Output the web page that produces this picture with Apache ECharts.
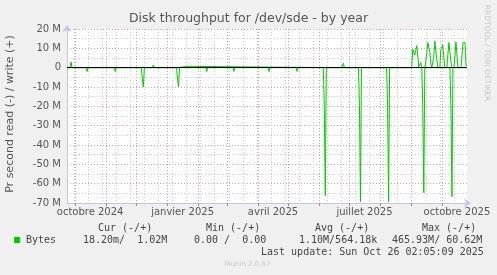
<!DOCTYPE html>
<html><head><meta charset="utf-8">
<script src="https://cdn.jsdelivr.net/npm/echarts@6/dist/echarts.min.js"></script>
<style>html,body{margin:0;padding:0;background:#f0f0f0;}#c{width:497px;height:275px;}</style>
</head><body><div id="c"></div>
<script>
// ---- data (values in M bytes/s) ----
const startDate = '2024-09-23';
const endDate = '2025-10-26';
const titleText = 'Disk throughput for /dev/sde - by year';
const yAxisName = 'Pr second read (-) / write (+)';
const yMin = -70, yMax = 20, yStep = 10;
const monthNames = ['janvier','février','mars','avril','mai','juin','juillet','août','septembre','octobre','novembre','décembre'];
const labelMonths = ['01','04','07','10'];

// write (+)
const writeData = [
  ['2024-09-23',0],['2024-09-26',0],['2024-09-27',3.0],['2024-09-28',0],
  ['2024-12-05',0],['2024-12-06',0.5],['2024-12-07',0],
  ['2024-12-17',0],['2024-12-18',1.4],['2024-12-19',0],
  ['2025-01-12',0],['2025-01-13',0.7],['2025-01-20',0.7],['2025-01-21',0],
  ['2025-06-16',0],['2025-06-17',1.0],['2025-06-18',0],
  ['2025-06-23',0],['2025-06-24',1.0],['2025-06-25',2.3],['2025-06-26',0],
  ['2025-09-01',0],['2025-09-02',9.5],['2025-09-03',8.0],['2025-09-04',6.5],['2025-09-05',9.0],['2025-09-06',11.4],['2025-09-07',6.0],['2025-09-08',0.5],['2025-09-09',1.5],['2025-09-10',2.6],['2025-09-11',0],
  ['2025-09-14',0],['2025-09-15',3.0],['2025-09-16',8.0],['2025-09-17',13.0],['2025-09-18',13.0],['2025-09-19',8.0],['2025-09-20',2.0],['2025-09-21',0],
  ['2025-09-22',0],['2025-09-23',6.0],['2025-09-24',13.8],['2025-09-25',13.0],['2025-09-26',4.0],['2025-09-27',0],
  ['2025-09-29',0],['2025-09-30',9.5],['2025-10-01',9.5],['2025-10-02',11.7],['2025-10-03',5.0],['2025-10-04',0],
  ['2025-10-06',0],['2025-10-07',7.0],['2025-10-08',13.0],['2025-10-09',13.0],['2025-10-10',3.0],['2025-10-11',0],
  ['2025-10-13',0],['2025-10-14',6.0],['2025-10-15',13.3],['2025-10-16',13.3],['2025-10-17',0],
  ['2025-10-20',0],['2025-10-21',6.0],['2025-10-22',13.0],['2025-10-23',13.0],['2025-10-24',13.0],['2025-10-25',1.0],['2025-10-26',1.02]
];

// read (-)
const readData = [
  ['2024-09-23',0],
  ['2024-10-12',0],['2024-10-13',-2],['2024-10-14',0],
  ['2024-11-09',0],['2024-11-10',-2],['2024-11-11',0],
  ['2024-12-06',0],['2024-12-07',-6],['2024-12-08',-10],['2024-12-09',0],
  ['2025-01-10',0],['2025-01-11',-6],['2025-01-12',-9.8],['2025-01-13',0],
  ['2025-02-08',0],['2025-02-09',-2],['2025-02-10',0],
  ['2025-03-07',0],['2025-03-08',-2],['2025-03-09',0],
  ['2025-04-11',0],['2025-04-12',-2],['2025-04-13',0],
  ['2025-05-09',0],['2025-05-10',-2],['2025-05-11',0],
  ['2025-06-05',0],['2025-06-06',-20],['2025-06-07',-66.2],['2025-06-08',0],
  ['2025-07-10',0],['2025-07-11',-20],['2025-07-12',-69.3],['2025-07-13',0],
  ['2025-08-07',0],['2025-08-08',-20],['2025-08-09',-69.3],['2025-08-10',0],
  ['2025-09-11',0],['2025-09-12',-20],['2025-09-13',-64.7],['2025-09-14',0],
  ['2025-10-09',0],['2025-10-10',-20],['2025-10-11',-66.7],['2025-10-12',0],
  ['2025-10-26',-0.02]
];

const legendHeaders = ['Cur (-/+)','Min (-/+)','Avg (-/+)','Max (-/+)'];
const legendValues = ['18.20m/  1.02M','0.00 /  0.00','1.10M/564.18k','465.93M/ 60.62M'];
const seriesName = 'Bytes';
const lastUpdate = 'Last update: Sun Oct 26 02:05:09 2025';
const footer = 'Munin 2.0.67';
const sideText = 'RRDTOOL / TOBI OETIKER';

// ---- build ----
const ts = s => Date.parse(s + 'T00:00:00Z');
const days = [];
for (let t = ts(startDate); t <= ts(endDate); t += 86400000) days.push(new Date(t).toISOString().slice(0,10));
const firstMonday = days.indexOf('2024-10-14');

const GREEN = '#00cc00';
const RED_GRID = '#dd9c9c';
const GREY_GRID = '#c8c8c8';
const AXIS = '#c4c4f0';
const mono = '"DejaVu Sans Mono", monospace';
const sans = '"DejaVu Sans", sans-serif';

const hdrX = [98, 206, 315, 422];
const valX = [83, 194, 299, 392];
const graphics = [
  {type:'text', x:10, y:114, rotation:Math.PI/2, style:{text:yAxisName, fill:'#555', font:'11px '+sans, align:'center', verticalAlign:'middle'}},
  {type:'text', x:487, y:53, rotation:-Math.PI/2, style:{text:sideText, fill:'#c8c8c8', font:'7.5px '+sans, align:'center', verticalAlign:'middle'}},
  {type:'rect', shape:{x:14, y:237, width:6, height:6}, style:{fill:GREEN}},
  {type:'text', x:26, y:240, style:{text:seriesName, fill:'#444', font:'10px '+mono, align:'left', verticalAlign:'middle'}},
  {type:'text', x:261, y:252, style:{text:lastUpdate, fill:'#444', font:'10px '+mono, align:'left', verticalAlign:'middle'}},
  {type:'text', x:247.5, y:264, style:{text:footer, fill:'#c8c8c8', font:'7px '+sans, align:'center', verticalAlign:'middle'}}
];
legendHeaders.forEach((h,i)=>graphics.push({type:'text', x:hdrX[i], y:228, style:{text:h, fill:'#444', font:'10px '+mono, align:'left', verticalAlign:'middle'}}));
legendValues.forEach((v,i)=>graphics.push({type:'text', x:valX[i], y:240, style:{text:v, fill:'#444', font:'10px '+mono, align:'left', verticalAlign:'middle'}}));

const option = {
  backgroundColor:'#f0f0f0',
  animation:false,
  title:{text:titleText, left:'center', top:12, padding:0, textStyle:{fontFamily:sans, fontSize:12.5, fontWeight:'normal', color:'#555'}},
  grid:{left:67, right:30, top:29, bottom:72, show:true, backgroundColor:'#ffffff', borderWidth:0},
  xAxis:[
    {type:'time', min:ts(startDate), max:ts(endDate), show:false},
    {type:'category', data:days, boundaryGap:false, position:'bottom', z:1,
      axisLine:{show:true, onZero:false, lineStyle:{color:AXIS, width:1}, symbol:['none','arrow'], symbolSize:[7,7], symbolOffset:[0,4]},
      axisTick:{show:true, interval:(i,v)=>v.endsWith('-01'), length:3, lineStyle:{color:'#e07070'}},
      axisLabel:{interval:(i,v)=>v.endsWith('-16') && labelMonths.includes(v.slice(5,7)),
        formatter:v=>monthNames[parseInt(v.slice(5,7),10)-1]+' '+v.slice(0,4),
        color:'#555', fontFamily:sans, fontSize:10, margin:4},
      splitLine:{show:true, interval:(i,v)=>v.endsWith('-01'), lineStyle:{color:RED_GRID, type:[1,2], width:1}}},
    {type:'category', data:days, boundaryGap:false, position:'bottom', z:0,
      axisLine:{show:false, onZero:false}, axisTick:{show:false}, axisLabel:{show:false},
      splitLine:{show:true, interval:(i)=>i>=7 && (i-firstMonday)%14===0, lineStyle:{color:GREY_GRID, type:[1,2], width:1}}}
  ],
  yAxis:{type:'value', min:yMin, max:yMax, interval:yStep,
    axisLine:{show:true, onZero:false, lineStyle:{color:AXIS, width:1}, symbol:['none','arrow'], symbolSize:[7,7], symbolOffset:[0,4]},
    axisTick:{show:false},
    axisLabel:{formatter:v=>v===0?'0':v+' M', color:'#555', fontFamily:sans, fontSize:10, margin:6},
    splitLine:{show:true, lineStyle:{color:RED_GRID, type:[1,2], width:1}},
    minorTick:{show:false, splitNumber:2},
    minorSplitLine:{show:true, lineStyle:{color:GREY_GRID, type:[1,2], width:1}}
  },
  series:[
    {name:'read', type:'line', xAxisIndex:0, data:readData.map(d=>[ts(d[0]),d[1]]), symbol:'none', showSymbol:false,
      lineStyle:{color:GREEN, width:1}, itemStyle:{color:GREEN}, z:2},
    {name:'write', type:'line', xAxisIndex:0, data:writeData.map(d=>[ts(d[0]),d[1]]), symbol:'none', showSymbol:false,
      lineStyle:{color:GREEN, width:1}, itemStyle:{color:GREEN}, z:3,
      markLine:{silent:true, symbol:['none','none'], label:{show:false}, lineStyle:{color:'#000', type:'solid', width:1}, data:[{yAxis:0}], z:5}}
  ],
  graphic:graphics
};
const chart = echarts.init(document.getElementById('c'), null, {renderer:'canvas'});
chart.setOption(option);
</script>
</body></html>
